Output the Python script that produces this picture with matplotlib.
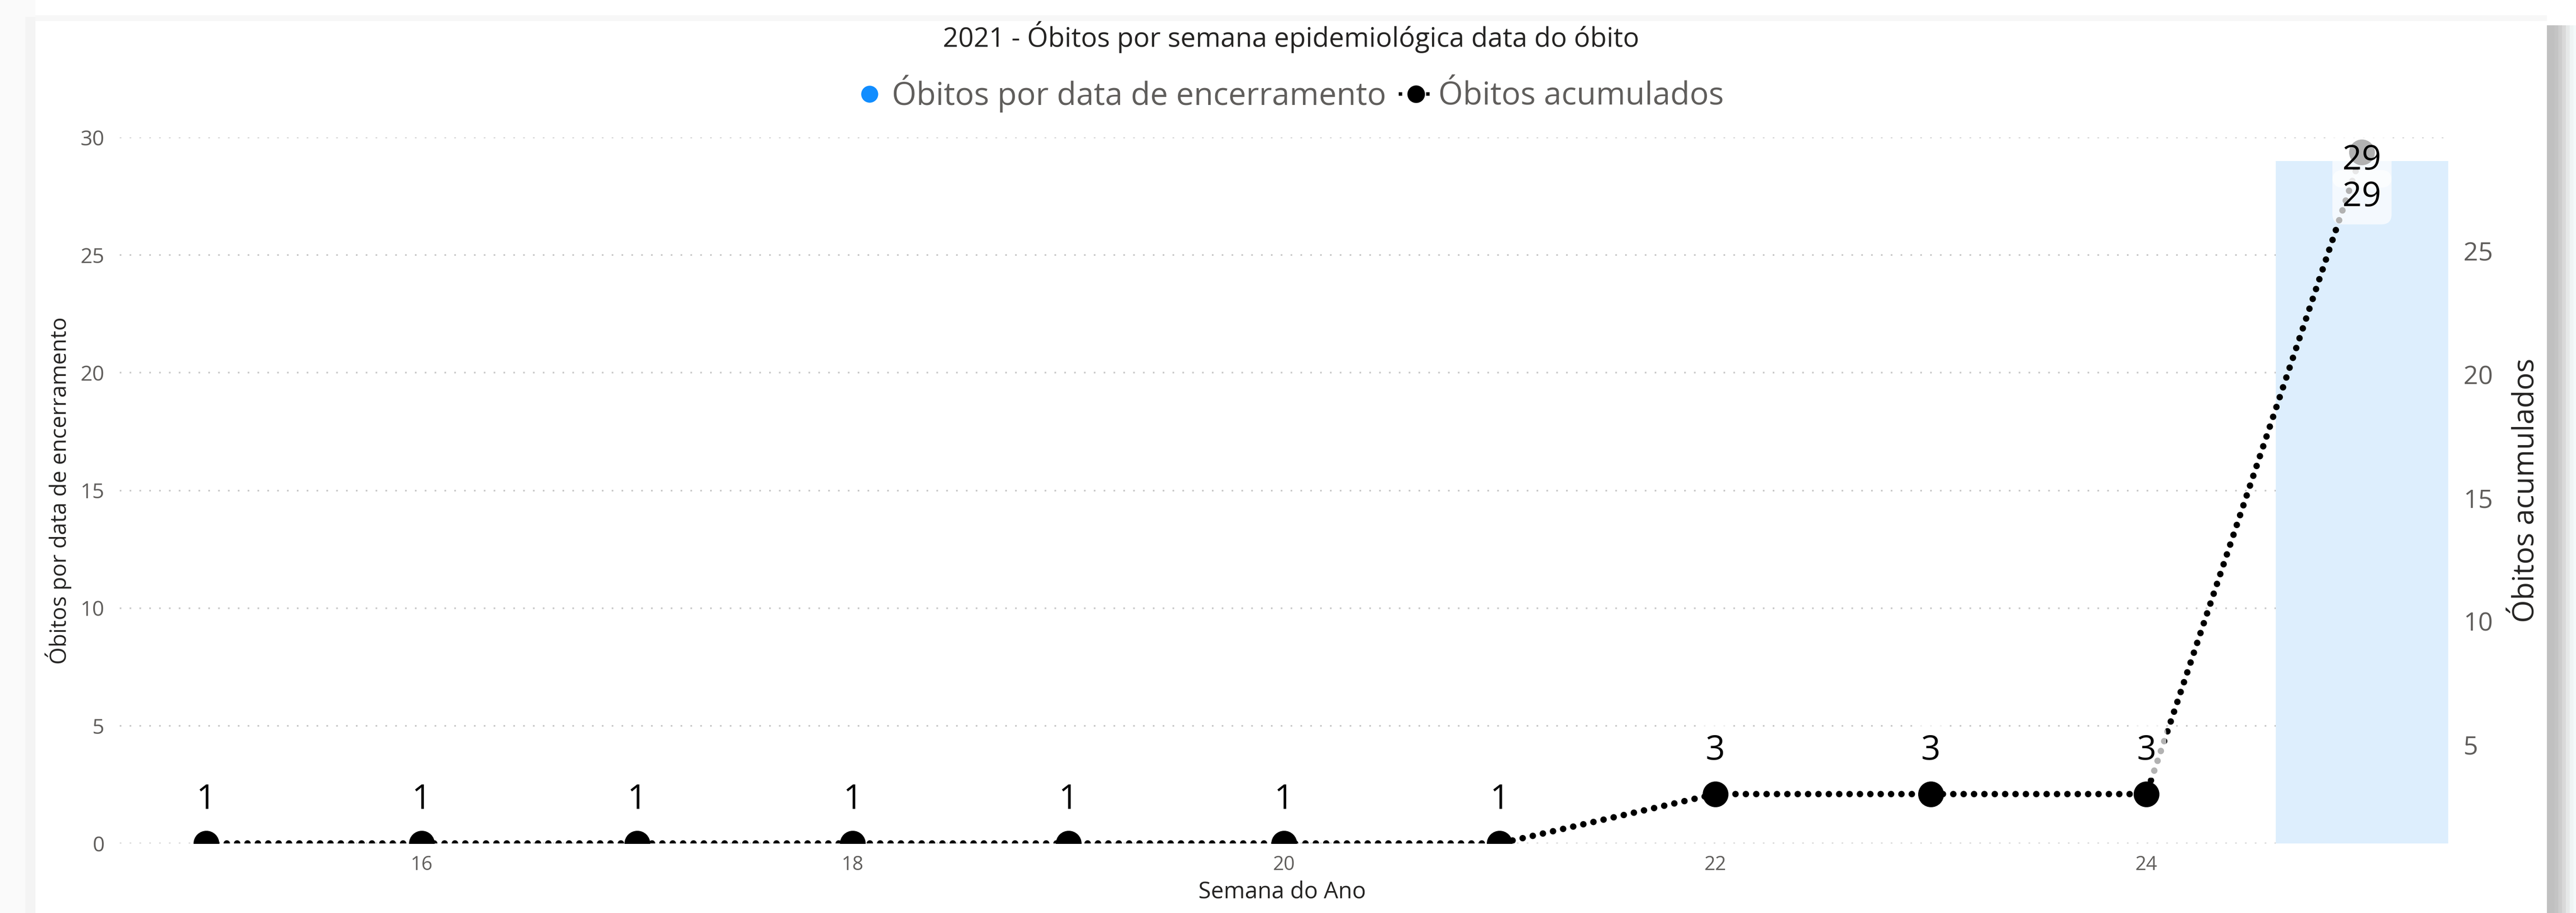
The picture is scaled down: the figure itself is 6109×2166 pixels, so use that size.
import numpy as np
import matplotlib
matplotlib.use("Agg")
import matplotlib.pyplot as plt
from matplotlib.lines import Line2D
from matplotlib.patches import Rectangle

plt.rcParams['font.family'] = ['Open Sans', 'DejaVu Sans']

# ---- data ----
weeks = [15, 16, 17, 18, 19, 20, 21, 22, 23, 24, 25]
obitos_encerramento = [np.nan] * 10 + [29]
obitos_acumulados = [1, 1, 1, 1, 1, 1, 1, 3, 3, 3, 29]
xticks = [16, 18, 20, 22, 24]
left_yticks = [0, 5, 10, 15, 20, 25, 30]
right_yticks = [5, 10, 15, 20, 25]

title = "2021 - Óbitos por semana epidemiológica data do óbito"
bar_name = "Óbitos por data de encerramento"
line_name = "Óbitos acumulados"
xlabel = "Semana do Ano"

W, H, DPI = 6109, 2166, 200
fig = plt.figure(figsize=(W / DPI, H / DPI), dpi=DPI)
fig.patch.set_facecolor('white')

# ---- card frame / shadow ----
def frect(x0, y0, x1, y1, color):
    fig.add_artist(Rectangle((x0 / W, 1 - y1 / H), (x1 - x0) / W, (y1 - y0) / H,
                             transform=fig.transFigure, facecolor=color,
                             edgecolor='none', zorder=-10))

frect(0, 0, 84, H, '#FAFAFA')
frect(60, 40, 84, H, '#F4F4F4')
frect(84, 36, 6040, 50, '#F7F7F7')
shadow = ['#C0C0C0', '#C0C0C0', '#C4C4C4', '#CDCDCD', '#D9D9D9', '#E6E8E8', '#EEF4F4', '#F3FAFA']
for i, c in enumerate(shadow):
    frect(6040 + i * 9, 60, 6040 + (i + 1) * 9, H, c)
frect(6040 + len(shadow) * 9, 0, W, H, '#F5FBFB')

# ---- axes ----
ax = fig.add_axes([284 / W, 1 - 2001 / H, (5806 - 284) / W, (2001 - 326) / H])
ax2 = ax.twinx()

bar_color = '#DDEEFD'
ax.bar(weeks, obitos_encerramento, width=0.8, color=bar_color, zorder=2)
ax.set_xlim(14.6, 25.4)
ax.set_ylim(0, 30)
ax.set_yticks(left_yticks)
ax.set_xticks(xticks)
ax.set_axisbelow(True)
ax.grid(axis='y', color='#C8C8C8', linewidth=1.4, linestyle=(0, (1, 5)))
ax.grid(axis='x', visible=False)

ax2.plot(weeks, obitos_acumulados, color='black', linewidth=5.5,
         linestyle=(0, (0.01, 1.6)), dash_capstyle='round',
         marker='o', markersize=21, markerfacecolor='black',
         markeredgecolor='black', zorder=3)
ax2.set_ylim(1, 29.6)
ax2.set_yticks(right_yticks)

for a in (ax, ax2):
    for s in a.spines.values():
        s.set_visible(False)
    a.tick_params(length=0, colors='#605E5C')

ax.tick_params(axis='y', labelsize=18, pad=13)
ax.tick_params(axis='x', labelsize=16.5, pad=10)
ax2.tick_params(axis='y', labelsize=22, pad=13)

ax.set_ylabel(bar_name, fontsize=19, color='#252423')
ax.yaxis.set_label_coords(-0.0264, 0.5)
ax.yaxis.label.set_va('center')
ax2.set_ylabel(line_name, fontsize=25, color='#252423')
ax2.yaxis.set_label_coords(1.0335, 0.5)
ax2.yaxis.label.set_va('center')
ax.set_xlabel(xlabel, fontsize=19.5, color='#252423')
ax.xaxis.set_label_coords(0.4993, -0.0687)
ax.xaxis.label.set_va('center')

# ---- data labels ----
box = dict(boxstyle='round,pad=0.3', facecolor='white', edgecolor='none', alpha=0.7)
top = max(obitos_acumulados)
for w, v in zip(weeks, obitos_acumulados):
    dy = -7 if v == top else 37
    ax2.annotate(str(v), (w, v), xytext=(0, dy), textcoords='offset points',
                 ha='center', va='center', fontsize=29, color='black',
                 bbox=box, zorder=5, annotation_clip=False)
for w, v in zip(weeks, obitos_encerramento):
    if not np.isnan(v):
        ax2.annotate(str(int(v)), (w, v), xycoords=ax.transData, xytext=(0, -31),
                     textcoords='offset points', ha='center', va='center',
                     fontsize=29, color='black', bbox=box, zorder=6)

# ---- title & legend ----
fig.text(0.5012, 1 - 88 / H, title, ha='center', va='center', fontsize=23,
         color='#252423')
handles = [
    Line2D([], [], linestyle='none', marker='o', markersize=13.5,
           markerfacecolor='#118DFF', markeredgecolor='#118DFF'),
    Line2D([], [], color='black', linewidth=3, linestyle=(0, (1, 1.6)),
           marker='o', markersize=14, markerfacecolor='black', markeredgecolor='black'),
]
fig.legend(handles, [bar_name, line_name], loc='center',
           bbox_to_anchor=(0.5, 1 - 222 / H), ncol=2, frameon=False,
           fontsize=27, labelcolor='#605E5C', handlelength=1.1,
           handletextpad=0.15, columnspacing=0.4, borderaxespad=0)

fig.savefig('out.png', dpi=DPI, facecolor=fig.get_facecolor())
